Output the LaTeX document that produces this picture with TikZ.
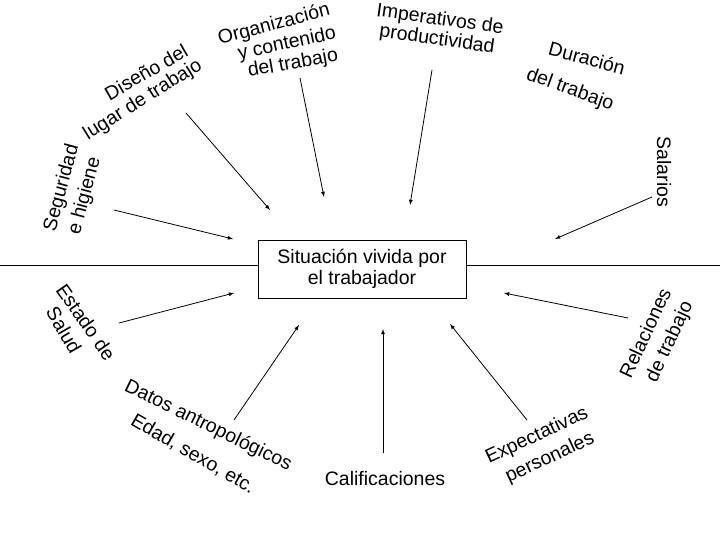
\documentclass[tikz,border=0pt]{standalone}
\usepackage{fontspec}
\setmainfont{Liberation Sans}
\begin{document}
\begin{tikzpicture}[x=1pt,y=-1pt,
	lbl/.style={font=\fontsize{19.5}{21}\selectfont, inner sep=0pt},
	flecha/.style={thick, -latex}]
	\useasboundingbox (0,0) rectangle (720,540);
	% centro
	\node [draw, thick, minimum width=208, minimum height=58, align=center, lbl, fill=white] (sit) at (362,269) {Situación vivida por\\el trabajador};
	\coordinate (izq) at (0,265);
	\coordinate (der) at (720,265);
	\draw [thick] (izq) -- (sit.west |- izq);
	\draw [thick] (sit.east |- der) -- (der);

	% arriba
	\node [lbl, rotate=30] (dis1) at (146,72) {Diseño del};
	\node [lbl, rotate=32] (dis2) at (143,100) {lugar de trabajo};
	\node [lbl, rotate=15] (org1) at (274,25) {Organización};
	\node [lbl, rotate=12] (org2) at (287,44) {y contenido};
	\node [lbl, rotate=10] (org3) at (293,64) {del trabajo};
	\node [lbl, rotate=-8] (imp1) at (440,20) {Imperativos de};
	\node [lbl, rotate=-8] (imp2) at (437,40) {productividad};
	\node [lbl, rotate=-15] (dur1) at (587,58) {Duración};
	\node [lbl, rotate=-20] (dur2) at (570,90) {del trabajo};
	\node [lbl, rotate=-90] (sal) at (664,172) {Salarios};
	\node [lbl, rotate=75] (seg1) at (62,188) {Seguridad};
	\node [lbl, rotate=75] (seg2) at (85,196) {e higiene};
	% abajo
	\node [lbl, rotate=-55] (est1) at (86,322) {Estado de};
	\node [lbl, rotate=-60] (est2) at (64,330) {Salud};
	\node [lbl, rotate=-26] (dat1) at (208,426) {Datos antropológicos};
	\node [lbl, rotate=-30] (dat2) at (193,454) {Edad, sexo, etc.};
	\node [lbl] (cal) at (385,479) {Calificaciones};
	\node [lbl, rotate=25] (exp1) at (537,436) {Expectativas};
	\node [lbl, rotate=25] (exp2) at (550,458) {personales};
	\node [lbl, rotate=65] (rel1) at (645,333) {Relaciones};
	\node [lbl, rotate=65] (rel2) at (670,342) {de trabajo};

	% flechas
	\coordinate (a1) at (186,113); \coordinate (b1) at (270,210);
	\coordinate (a2) at (300,78);  \coordinate (b2) at (324,197);
	\coordinate (a3) at (432,70);  \coordinate (b3) at (410,205);
	\coordinate (a4) at (652,197); \coordinate (b4) at (555,239);
	\coordinate (a5) at (114,210); \coordinate (b5) at (233,239);
	\coordinate (a6) at (119,323); \coordinate (b6) at (234,293);
	\coordinate (a7) at (234,420); \coordinate (b7) at (299,325);
	\coordinate (a8) at (383,453); \coordinate (b8) at (383,329);
	\coordinate (a9) at (527,420); \coordinate (b9) at (450,324);
	\coordinate (a10) at (628,318); \coordinate (b10) at (504,293);
	\foreach \i in {1,...,10}
		\draw [flecha] (a\i) -- (b\i);
\end{tikzpicture}
\end{document}
